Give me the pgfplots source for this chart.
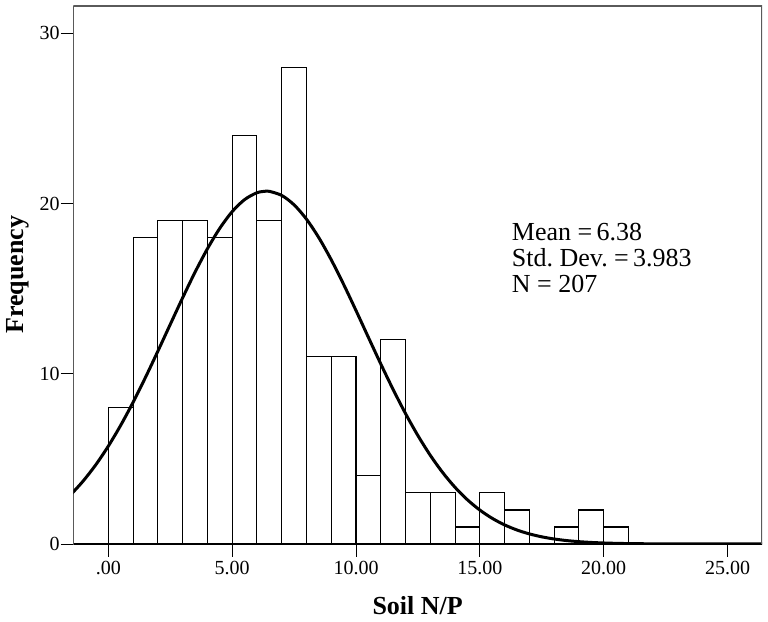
\documentclass[border=0pt]{standalone}
\usepackage{fontspec}
\setmainfont{Liberation Serif}
\usepackage{pgfplots}
\pgfplotsset{compat=1.18}
\definecolor{frame}{HTML}{5A5A5A}
\begin{document}
\begin{tikzpicture}
\begin{axis}[
  at={(0,0)}, anchor=south west,
  scale only axis,
  width=688.7pt, height=538.3pt,
  xmin=-1.413, xmax=26.39,
  ymin=0, ymax=31.63,
  axis line style={draw=none},
  tick align=outside,
  xtick pos=bottom, ytick pos=left,
  major tick length=12.5pt,
  tick style={black, line width=1pt},
  xtick={0,5,10,15,20,25},
  xticklabels={.00,5.00,10.00,15.00,20.00,25.00},
  ytick={0,10,20,30},
  yticklabels={0,10,20,30},
  xticklabel style={font=\fontsize{20}{22}\selectfont, inner sep=4pt},
  yticklabel style={font=\fontsize{20}{22}\selectfont, inner sep=1pt},
  every axis x label/.style={at={(axis description cs:0.5,-0.1306)}, anchor=base},
  every axis y label/.style={at={(axis description cs:-0.0726,0.5)}, anchor=base, rotate=90},
  xlabel={\fontsize{26}{30}\selectfont\bfseries Soil N/P},
  ylabel={\fontsize{26}{30}\selectfont\bfseries Frequency},
  clip=true,
]
\addplot[ybar interval, fill=white, draw=black, line width=1.1pt] coordinates {
(0,8) (1,18) (2,19) (3,19) (4,18) (5,24) (6,19) (7,28) (8,11) (9,11)
(10,4) (11,12) (12,3) (13,3) (14,1) (15,3) (16,2) (17,0) (18,1) (19,2) (20,1) (21,1)
};
\addplot[black, line width=3pt, smooth] coordinates {
(-1.5,2.92) (-1.4,3.077) (-1,3.726) (-0.5,4.665) (0,5.748) (0.5,6.973) (1,8.326) (1.5,9.788)
(2,11.327) (2.5,12.900) (3,14.463) (3.5,15.965) (4,17.343) (4.5,18.548)
(5,19.527) (5.5,20.234) (6,20.639) (6.38,20.733) (6.5,20.724) (7,20.483)
(7.5,19.929) (8,19.087) (8.5,17.995) (9,16.700) (9.5,15.255) (10,13.718)
(10.5,12.142) (11,10.580) (11.5,9.075) (12,7.661) (12.5,6.368) (13,5.210)
(13.5,4.196) (14,3.326) (14.5,2.595) (15,1.993) (15.5,1.507) (16,1.122)
(16.5,0.822) (17,0.593) (17.5,0.421) (18,0.294) (18.5,0.202) (19,0.137)
(19.5,0.091) (20,0.060) (20.5,0.039) (21,0.025) (22,0.0095) (23,0.0034)
(24,0.0012) (25,0.0004) (26.5,0.0001)
};
\draw[black, line width=1.1pt] (rel axis cs:0,1) -- (rel axis cs:0,0) -- (rel axis cs:1,0);
\draw[frame, line width=2pt] (rel axis cs:0,1) -- (rel axis cs:1,1) -- (rel axis cs:1,0);
\node[anchor=base west, inner sep=0pt, font=\fontsize{26}{28}\selectfont] at (axis description cs:0.6366,0.5634) {Mean =\,6.38};
\node[anchor=base west, inner sep=0pt, font=\fontsize{26}{28}\selectfont] at (axis description cs:0.6366,0.5151) {Std.\ Dev.\ =\,3.983};
\node[anchor=base west, inner sep=0pt, font=\fontsize{26}{28}\selectfont] at (axis description cs:0.6366,0.4668) {N = 207};
\end{axis}
\pgfresetboundingbox
\path[use as bounding box] (-73.3pt,-77pt) rectangle (694.7pt,544pt);
\end{tikzpicture}
\end{document}
